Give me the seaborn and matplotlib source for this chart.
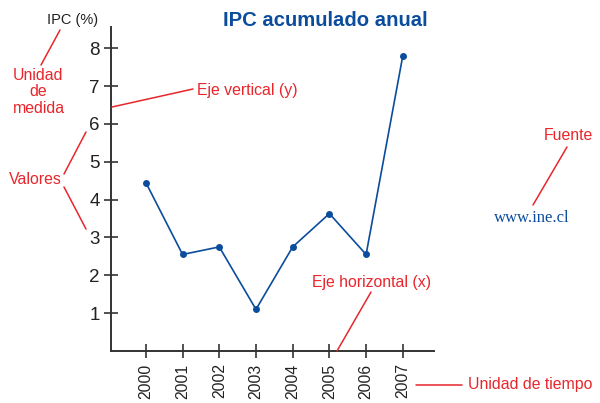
import matplotlib
matplotlib.use("Agg")
import matplotlib.pyplot as plt
import seaborn as sns
import pandas as pd
from matplotlib.lines import Line2D

# Annual accumulated CPI (%)
years = ["2000", "2001", "2002", "2003", "2004", "2005", "2006", "2007"]
ipc = [4.45, 2.55, 2.75, 1.1, 2.75, 3.63, 2.55, 7.8]
y_ticks = [1, 2, 3, 4, 5, 6, 7, 8]

sns.set_style("white")
plt.rcParams["font.family"] = ["Liberation Sans", "DejaVu Sans"]

BLUE = "#0b4c9c"
RED = "#e8262c"
AXIS = "#333333"
RED_SIZE = 11.4

W, H = 600, 403
fig = plt.figure(figsize=(W / 100, H / 100), dpi=100)
ax = fig.add_axes([111 / W, 1 - 351 / H, (434 - 111) / W, (351 - 27) / H])

df = pd.DataFrame({"pos": range(len(years)), "ipc": ipc})
sns.lineplot(data=df, x="pos", y="ipc", ax=ax, color=BLUE, linewidth=1.2,
             marker="o", markersize=5, markeredgewidth=0)

ax.set_xlim(-0.95, 7.85)
ax.set_ylim(0, 8.56)
ax.set_xticks(range(len(years)))
ax.set_xticklabels(years, rotation=90, fontsize=11.3, color="#222222")
ax.set_yticks(y_ticks)
ax.set_yticklabels([str(v) for v in y_ticks], fontsize=13.5, color="#222222")
ax.set_xlabel("")
ax.set_ylabel("")
ax.tick_params(axis="both", direction="inout", length=10, width=1.2,
               color=AXIS, bottom=True, left=True)
ax.tick_params(axis="y", pad=3)
ax.tick_params(axis="x", pad=4)
for s in ["top", "right"]:
    ax.spines[s].set_visible(False)
for s in ["left", "bottom"]:
    ax.spines[s].set_color(AXIS)
    ax.spines[s].set_linewidth(1.4)


def fx(px):
    return px / W


def fy(py):
    return 1 - py / H


def note_line(x0, y0, x1, y1):
    fig.add_artist(Line2D([fx(x0), fx(x1)], [fy(y0), fy(y1)],
                          transform=fig.transFigure, color=RED, linewidth=1.1))


fig.text(fx(325), fy(20), "IPC acumulado anual", ha="center", va="center",
         fontsize=14.6, fontweight="bold", color=BLUE)
fig.text(fx(73), fy(20), "IPC (%)", ha="center", va="center", fontsize=10.5,
         color="#222222")

fig.text(fx(38.5), fy(92), "Unidad\nde\nmedida", ha="center", va="center",
         fontsize=RED_SIZE, color=RED, linespacing=1.1)
note_line(60, 30, 41, 65)

fig.text(fx(197), fy(90), "Eje vertical (y)", ha="left", va="center",
         fontsize=RED_SIZE, color=RED)
note_line(112, 107, 193, 89)

fig.text(fx(35), fy(180), "Valores", ha="center", va="center",
         fontsize=RED_SIZE, color=RED)
note_line(64, 174, 86, 132)
note_line(64, 187, 86, 229)

fig.text(fx(568.5), fy(135), "Fuente", ha="center", va="center",
         fontsize=RED_SIZE, color=RED)
note_line(567, 147, 533, 205)
fig.text(fx(531.5), fy(218), "www.ine.cl", ha="center", va="center",
         fontsize=12, color=BLUE, family=["Liberation Serif", "DejaVu Serif"])

fig.text(fx(371.5), fy(282), "Eje horizontal (x)", ha="center", va="center",
         fontsize=RED_SIZE, color=RED)
note_line(371, 292, 337, 351)

fig.text(fx(468), fy(385), "Unidad de tiempo", ha="left", va="center",
         fontsize=RED_SIZE, color=RED)
note_line(416, 385, 462, 385)

fig.savefig("out.png", dpi=100)
